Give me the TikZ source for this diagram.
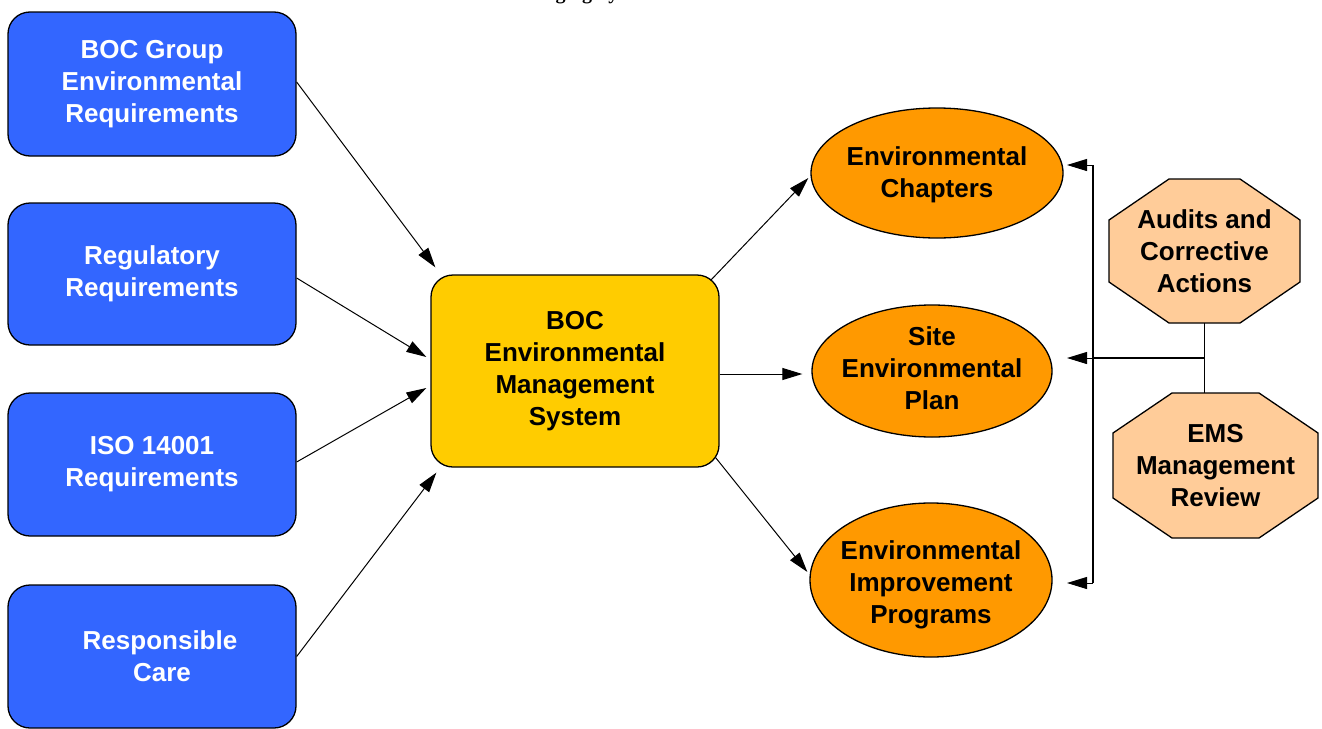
\documentclass[tikz,border=0pt]{standalone}
\usepackage{fontspec}
\setmainfont{Liberation Sans}
\newfontfamily\titlefont{Liberation Serif}
\usetikzlibrary{arrows.meta,shapes.geometric,calc}

\definecolor{boxblue}{HTML}{3366FF}
\definecolor{emsyellow}{HTML}{FFCC00}
\definecolor{planorange}{HTML}{FF9900}
\definecolor{reviewpeach}{HTML}{FFCC99}

% octagon: centre, half width, half height, chamfer x, chamfer y
\newcommand\drawoct[5]{%
  \draw[octline] ($(#1)+(-#2+#4,-#3)$) -- ($(#1)+(#2-#4,-#3)$)
    -- ($(#1)+(#2,-#3+#5)$) -- ($(#1)+(#2,#3-#5)$)
    -- ($(#1)+(#2-#4,#3)$) -- ($(#1)+(-#2+#4,#3)$)
    -- ($(#1)+(-#2,#3-#5)$) -- ($(#1)+(-#2,-#3+#5)$) -- cycle;}

\begin{document}
\begin{tikzpicture}[x=1pt,y=-1pt,
  every node/.style={font=\bfseries\fontsize{26}{32}\selectfont, align=center, inner sep=0pt},
  reqbox/.style={rectangle, rounded corners=22pt, draw=black, line width=1.3pt,
    fill=boxblue, text=white, minimum width=288pt},
  emsbox/.style={rectangle, rounded corners=22pt, draw=black, line width=1.3pt,
    fill=emsyellow, minimum width=288pt, minimum height=192pt},
  planell/.style={ellipse, draw=black, line width=1.3pt, fill=planorange},
  octline/.style={draw=black, line width=1.3pt, fill=reviewpeach},
  link/.style={line width=1pt, -{Triangle[length=20pt,width=12pt]}},
  barline/.style={line width=1.2pt}]

\useasboundingbox (0,0) rectangle (1322,728);
\fill[white] (0,0) rectangle (1322,728);

% heading, cut by the top edge
\node[font=\titlefont\bfseries\fontsize{20}{24}\selectfont, anchor=base] (title) at (692,0)
  {Managing System for Environmental Issues};

% requirement sources
\node[reqbox, minimum height=144pt] (grp) at (152,84) {BOC Group\\Environmental\\Requirements};
\node[reqbox, minimum height=142pt] (reg) at (152,274) {Regulatory\\Requirements};
\node[reqbox, minimum height=143pt] (iso) at (152,464.5) {ISO 14001\\Requirements};
\node[reqbox, minimum height=143pt] (care) at (152,656.5) {\hspace*{16pt}Responsible\\\hspace*{20pt}Care};

% central system
\node[emsbox] (ems) at (575,371) {BOC\\Environmental\\Management\\System};

% outputs
\node[planell, minimum width=252pt, minimum height=130pt] (chap) at (937,173) {};
\node (chaptxt) at (937,175) {Environmental\\Chapters};
\node[planell, minimum width=240pt, minimum height=132pt] (plan) at (932,371) {};
\node (plantxt) at (932,368) {Site\\Environmental\\Plan};
\node[planell, minimum width=242pt, minimum height=154pt] (prog) at (931,580) {};
\node (progtxt) at (931,585) {Environmental\\Improvement\\Programs};

% feedback activities
\coordinate (audc) at (1204.5,251);
\drawoct{audc}{95.5}{72}{60}{41}
\node[minimum width=191pt, minimum height=144pt] (aud) at (audc) {Audits and\\Corrective\\Actions};
\coordinate (revc) at (1215.5,465.5);
\drawoct{revc}{102.5}{72.5}{59}{40}
\node[minimum width=205pt, minimum height=145pt] (rev) at (revc) {EMS\\Management\\Review};

% inputs into the system
\draw[link] ([yshift=2pt]grp.east) -- ([shift={(5,-7)}]ems.north west);
\draw[link] ([yshift=-4pt]reg.east) -- ([shift={(-4,-14)}]ems.west);
\draw[link] ([yshift=2.5pt]iso.east) -- ([shift={(-4,17)}]ems.west);
\draw[link] (care.east) -- ([shift={(6,5)}]ems.south west);

% system to outputs
\draw[link] ([shift={(-9,6)}]ems.north east) -- ([shift={(-2,5)}]chap.west);
\draw[link] ([yshift=-3pt]ems.east) -- ([shift={(-9,3)}]plan.west);
\draw[link] ([shift={(-4,-10)}]ems.south east) -- ([shift={(-2,-8)}]prog.west);

% feedback bar
\coordinate (bartop) at (1093,165);
\coordinate (barmid) at (1093,358);
\coordinate (barbot) at (1093,583);
\coordinate (tipA) at (1067,165);
\coordinate (tipB) at (1067,358);
\coordinate (tipC) at (1067,583);
\draw[barline] (bartop) -- (barbot);
\draw[link] (bartop) -- (tipA);
\draw[link] (barmid) -- (tipB);
\draw[link] (barbot) -- (tipC);
\draw[barline] (aud.south) -- (rev.north -| aud.south);
\draw[barline] (barmid) -- (barmid -| aud.south);

\end{tikzpicture}
\end{document}
